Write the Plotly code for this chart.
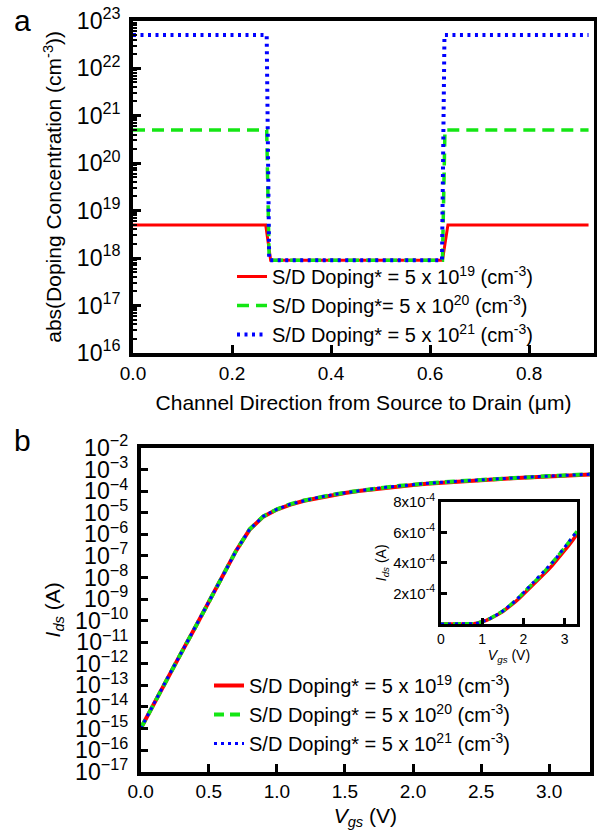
import plotly.graph_objects as go

# ---------------- Panel a: doping profile ----------------
pos_red = [0.0, 0.268, 0.278, 0.625, 0.636, 0.92]
pos_green = [0.0, 0.270, 0.275, 0.625, 0.630, 0.92]
pos_blue = [0.0, 0.270, 0.275, 0.624, 0.629, 0.92]
dop_red = [5e18, 5e18, 9e17, 9e17, 5e18, 5e18]
dop_green = [5e20, 5e20, 9e17, 9e17, 5e20, 5e20]
dop_blue = [5e22, 5e22, 9e17, 9e17, 5e22, 5e22]

names_a = [
    "S/D Doping* = 5 x 10<sup>19</sup> (cm<sup>-3</sup>)",
    "S/D Doping*= 5 x 10<sup>20</sup> (cm<sup>-3</sup>)",
    "S/D Doping* = 5 x 10<sup>21</sup> (cm<sup>-3</sup>)",
]
names_b = [
    "S/D Doping* = 5 x 10<sup>19</sup> (cm<sup>-3</sup>)",
    "S/D Doping* = 5 x 10<sup>20</sup> (cm<sup>-3</sup>)",
    "S/D Doping* = 5 x 10<sup>21</sup> (cm<sup>-3</sup>)",
]

# ---------------- Panel b: transfer curves ----------------
vgs = [0.0, 0.1, 0.2, 0.3, 0.4, 0.5, 0.6, 0.7, 0.8, 0.9, 1.0, 1.1,
       1.2, 1.3, 1.4, 1.5, 1.6, 1.7, 1.8, 1.9, 2.0, 2.1, 2.2, 2.3,
       2.4, 2.5, 2.6, 2.7, 2.8, 2.9, 3.0, 3.1, 3.2, 3.3]
ids_blue = [1.0e-15, 1.6e-14, 2.4e-13, 3.4e-12, 4.8e-11, 7.0e-10, 1.1e-8, 1.7e-7,
            1.7e-6, 6.8e-6, 1.45e-5, 2.5e-5, 3.7e-5, 5.1e-5, 6.7e-5, 8.5e-5,
            1.05e-4, 1.27e-4, 1.50e-4, 1.77e-4, 2.05e-4, 2.30e-4, 2.56e-4, 2.83e-4,
            3.11e-4, 3.40e-4, 3.70e-4, 4.01e-4, 4.33e-4, 4.66e-4, 5.00e-4, 5.35e-4,
            5.71e-4, 6.08e-4]
ids_green = [1.0e-15, 1.6e-14, 2.4e-13, 3.4e-12, 4.8e-11, 7.0e-10, 1.1e-8, 1.7e-7,
             1.7e-6, 6.8e-6, 1.45e-5, 2.5e-5, 3.7e-5, 5.1e-5, 6.7e-5, 8.5e-5,
             1.05e-4, 1.27e-4, 1.50e-4, 1.76e-4, 2.04e-4, 2.29e-4, 2.55e-4, 2.82e-4,
             3.10e-4, 3.39e-4, 3.69e-4, 4.00e-4, 4.32e-4, 4.65e-4, 4.99e-4, 5.34e-4,
             5.70e-4, 6.06e-4]
ids_red = [1.0e-15, 1.6e-14, 2.4e-13, 3.4e-12, 4.8e-11, 7.0e-10, 1.1e-8, 1.7e-7,
           1.65e-6, 6.6e-6, 1.4e-5, 2.4e-5, 3.6e-5, 4.9e-5, 6.5e-5, 8.2e-5,
           1.01e-4, 1.22e-4, 1.44e-4, 1.69e-4, 1.95e-4, 2.19e-4, 2.44e-4, 2.70e-4,
           2.97e-4, 3.25e-4, 3.54e-4, 3.84e-4, 4.15e-4, 4.47e-4, 4.80e-4, 5.14e-4,
           5.49e-4, 5.88e-4]

inset_ytickvals = [2e-4, 4e-4, 6e-4, 8e-4]
inset_yticktext = ["2x10<sup>-4</sup>", "4x10<sup>-4</sup>", "6x10<sup>-4</sup>", "8x10<sup>-4</sup>"]
inset_xtickvals = [0, 1, 2, 3]

RED = "#ff0000"
GREEN = "#14e614"
BLUE = "#0000ff"
FONT = "Liberation Sans, Arial, sans-serif"

W, H = 597, 831

def px_x(a, b):
    return [a / W, b / W]

def px_y(top, bottom):
    return [1 - bottom / H, 1 - top / H]

fig = go.Figure()

# panel a traces
fig.add_trace(go.Scatter(x=pos_red, y=dop_red, mode="lines", name=names_a[0],
                         line=dict(color=RED, width=3), xaxis="x", yaxis="y", legend="legend"))
fig.add_trace(go.Scatter(x=pos_green, y=dop_green, mode="lines", name=names_a[1],
                         line=dict(color=GREEN, width=3.5, dash="12px,7px"), xaxis="x", yaxis="y", legend="legend"))
fig.add_trace(go.Scatter(x=pos_blue, y=dop_blue, mode="lines", name=names_a[2],
                         line=dict(color=BLUE, width=4, dash="3px,4.5px"), xaxis="x", yaxis="y", legend="legend"))

# panel b traces
fig.add_trace(go.Scatter(x=vgs, y=ids_red, mode="lines", name=names_b[0],
                         line=dict(color=RED, width=4), xaxis="x2", yaxis="y2", legend="legend2"))
fig.add_trace(go.Scatter(x=vgs, y=ids_green, mode="lines", name=names_b[1],
                         line=dict(color=GREEN, width=4, dash="10px,6px"), xaxis="x2", yaxis="y2", legend="legend2"))
fig.add_trace(go.Scatter(x=vgs, y=ids_blue, mode="lines", name=names_b[2],
                         line=dict(color=BLUE, width=3, dash="3px,4px"), xaxis="x2", yaxis="y2", legend="legend2"))

# inset traces
fig.add_trace(go.Scatter(x=vgs, y=ids_red, mode="lines", showlegend=False,
                         line=dict(color=RED, width=3.5), xaxis="x3", yaxis="y3"))
fig.add_trace(go.Scatter(x=vgs, y=ids_green, mode="lines", showlegend=False,
                         line=dict(color=GREEN, width=3.5, dash="8px,4px"), xaxis="x3", yaxis="y3"))
fig.add_trace(go.Scatter(x=vgs, y=ids_blue, mode="lines", showlegend=False,
                         line=dict(color=BLUE, width=3, dash="3px,4px"), xaxis="x3", yaxis="y3"))

axis_common = dict(showline=True, linewidth=3.5, linecolor="black", mirror=True,
                   ticks="inside", ticklen=8, tickwidth=2.5, tickcolor="black",
                   showgrid=False, zeroline=False, automargin=False,
                   tickfont=dict(size=19, color="black", family=FONT))
yfont = dict(size=18.5, color="black", family=FONT)

fig.update_layout(
    template="none",
    width=W, height=H,
    margin=dict(l=0, r=0, t=0, b=0),
    paper_bgcolor="white", plot_bgcolor="white",
    font=dict(family=FONT, color="black", size=20),
    xaxis=dict(axis_common, domain=px_x(133, 594), range=[0, 0.931], dtick=0.2, tick0=0,
               tickformat=".1f", anchor="y",
               title=dict(text="Channel Direction from Source to Drain (\u03bcm)", font=dict(size=21), standoff=14)),
    yaxis=dict(axis_common, domain=px_y(20.7, 353), type="log", range=[16, 23], dtick=1,
               exponentformat="power", anchor="x", ticklabelstandoff=5, tickfont=yfont,
               minor=dict(ticks="inside", ticklen=4, tickwidth=1.5, tickcolor="black", showgrid=False),
               title=dict(text="abs(Doping Concentration (cm<sup>-3</sup>))", font=dict(size=21), standoff=10)),
    xaxis2=dict(axis_common, domain=px_x(140.7, 590), range=[0, 3.3], dtick=0.5, tick0=0,
                tickformat=".1f", anchor="y2",
                title=dict(text="<i>V</i><sub><i>gs</i></sub> (V)", font=dict(size=21), standoff=8)),
    yaxis2=dict(axis_common, domain=px_y(448, 771.7), type="log", range=[-17, -2], dtick=1,
                exponentformat="power", anchor="x2", ticklabelstandoff=5, tickfont=yfont,
                title=dict(text="<i>I</i><sub><i>ds</i></sub> (A)", font=dict(size=21), standoff=10)),
    xaxis3=dict(axis_common, domain=px_x(441, 577), range=[0, 3.3], tickvals=inset_xtickvals,
                anchor="y3", linewidth=3, ticklen=6, tickfont=dict(size=14, color="black", family=FONT),
                title=dict(text="<i>V</i><sub><i>gs</i></sub> (V)", font=dict(size=14), standoff=2)),
    yaxis3=dict(axis_common, domain=px_y(501.7, 624), range=[0, 8e-4], tickvals=inset_ytickvals,
                ticktext=inset_yticktext, anchor="x3", linewidth=3, ticklen=6,
                tickfont=dict(size=15, color="black", family=FONT),
                title=dict(text="<i>I</i><sub><i>ds</i></sub> (A)", font=dict(size=14), standoff=4)),
    legend=dict(x=232 / W, y=1 - 257 / H, xanchor="left", yanchor="top",
                bgcolor="rgba(0,0,0,0)", font=dict(size=20), itemwidth=30, tracegroupgap=0),
    legend2=dict(x=209 / W, y=1 - 666 / H, xanchor="left", yanchor="top",
                 bgcolor="rgba(0,0,0,0)", font=dict(size=20), itemwidth=30, tracegroupgap=0),
    annotations=[
        dict(text="a", x=12 / W, y=1 - 2 / H, xref="paper", yref="paper", xanchor="left",
             yanchor="top", showarrow=False, font=dict(size=30)),
        dict(text="b", x=12 / W, y=1 - 422 / H, xref="paper", yref="paper", xanchor="left",
             yanchor="top", showarrow=False, font=dict(size=30)),
    ],
)

fig.write_html("out.html", config={"displayModeBar": False},
               post_script="document.body.style.margin='0';document.body.style.padding='0';")
